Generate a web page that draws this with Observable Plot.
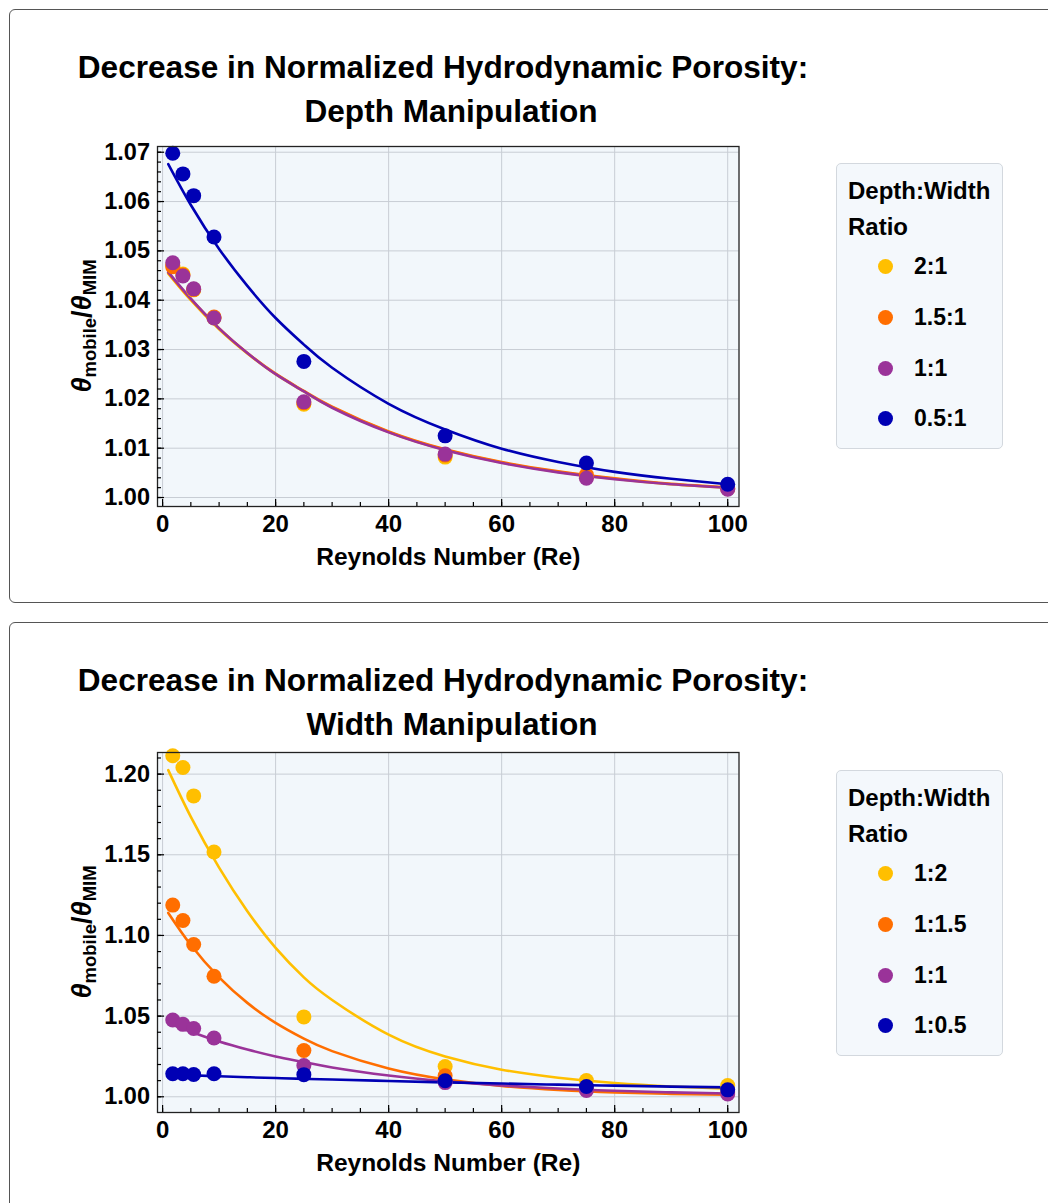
<!DOCTYPE html>
<html>
<head>
<meta charset="utf-8">
<script src="https://cdn.jsdelivr.net/npm/d3@7"></script>
<script src="https://cdn.jsdelivr.net/npm/@observablehq/plot@0.6"></script>
<style>
  body { margin: 0; background: #fff; font-family: "Liberation Sans", Arial, sans-serif; }
  #page { position: relative; width: 1048px; height: 1203px; overflow: hidden; }
  .panel { position: absolute; left: 9px; width: 1100px; box-sizing: border-box;
           border: 1.5px solid #555; border-radius: 6px; }
  .title { position: absolute; width: 900px; text-align: center; font-weight: bold;
           font-size: 31.6px; line-height: 31px; white-space: nowrap; color: #000; }
  .chart { position: absolute; left: 0; }
  .legend { position: absolute; left: 836px; width: 167px; height: 286px; box-sizing: border-box;
            background: #F4F8FC; border: 1px solid #D3D8DE; border-radius: 5px; }
  .legend .head { position: absolute; left: 11px; font-weight: bold; font-size: 24px; line-height: 24px; white-space: nowrap; }
  .legend .sw { position: absolute; width: 15px; height: 15px; border-radius: 50%; left: 41px; }
  .legend .lab { position: absolute; left: 77px; font-weight: bold; font-size: 23px; line-height: 23px; white-space: nowrap; }
</style>
</head>
<body>
<div id="page"></div>
<script>
// Reynolds numbers of the measured runs
const reynolds = [1.8, 3.6, 5.5, 9.1, 25, 50, 75, 100];
// Reynolds numbers at which the fitted curves are sampled
const fitReynolds = [1, 5, 10, 15, 20, 25, 30, 40, 50, 60, 70, 80, 90, 100];
const seriesColors = ["#FFBF00", "#FF6E00", "#9A3399", "#0000B4"];

// Axis ticks
const xTicks = [0, 20, 40, 60, 80, 100];
const depthYTicks = [1.00, 1.01, 1.02, 1.03, 1.04, 1.05, 1.06, 1.07];
const widthYTicks = [1.00, 1.05, 1.10, 1.15, 1.20];

// The 1:1 channel is shared by both experiments
const ratio1to1 = [1.0476, 1.0449, 1.0423, 1.0364, 1.0194, 1.0088, 1.0039, 1.0017];
const ratio1to1Fit = [1.0457, 1.0403, 1.0343, 1.0293, 1.0250, 1.0215, 1.0182, 1.0132, 1.0096, 1.0070, 1.0051, 1.0037, 1.0027, 1.0020];

// Depth manipulation (depth:width)
const depthRatios = ["2:1", "1.5:1", "1:1", "0.5:1"];
const depth2to1 = [1.0470, 1.0453, 1.0421, 1.0364, 1.0189, 1.0082, 1.0041, 1.0018];
const depth15to1 = [1.0468, 1.0451, 1.0422, 1.0366, 1.0192, 1.0086, 1.0046, 1.0019];
const depth05to1 = [1.0698, 1.0656, 1.0612, 1.0528, 1.0276, 1.0125, 1.0070, 1.0027];
const depth2to1Fit = [1.0454, 1.0400, 1.0341, 1.0292, 1.0250, 1.0215, 1.0183, 1.0133, 1.0097, 1.0071, 1.0052, 1.0038, 1.0027, 1.0020];
const depth15to1Fit = [1.0456, 1.0402, 1.0343, 1.0293, 1.0251, 1.0216, 1.0184, 1.0134, 1.0098, 1.0072, 1.0053, 1.0039, 1.0028, 1.0021];
const depth05to1Fit = [1.0676, 1.0593, 1.0504, 1.0429, 1.0364, 1.0310, 1.0263, 1.0190, 1.0138, 1.0099, 1.0072, 1.0052, 1.0038, 1.0027];

// Width manipulation (depth:width)
const widthRatios = ["1:2", "1:1.5", "1:1", "1:0.5"];
const width1to2 = [1.2114, 1.2041, 1.1865, 1.1517, 1.0495, 1.0188, 1.0101, 1.0070];
const width1to15 = [1.1188, 1.1093, 1.0944, 1.0747, 1.0287, 1.0130, 1.0045, 1.0030];
const width1to05 = [1.0143, 1.0143, 1.0138, 1.0143, 1.0137, 1.0099, 1.0064, 1.0043];
const width1to2Fit = [1.2025, 1.1735, 1.1420, 1.1150, 1.0923, 1.0740, 1.0600, 1.0385, 1.0250, 1.0168, 1.0118, 1.0085, 1.0064, 1.0050];
const width1to15Fit = [1.1140, 1.0941, 1.0740, 1.0582, 1.0458, 1.0360, 1.0283, 1.0175, 1.0108, 1.0067, 1.0042, 1.0027, 1.0018, 1.0013];
const width1to05Fit = [1.0137, 1.0133, 1.0127, 1.0121, 1.0116, 1.0111, 1.0107, 1.0098, 1.0089, 1.0082, 1.0075, 1.0069, 1.0063, 1.0058];

const FONT = "'Liberation Sans', Arial, sans-serif";

function tidy(ratios, series, xs) {
  return ratios.flatMap((ratio, i) => xs.map((re, j) => ({ratio, re, value: series[i][j]})));
}

function makeChart({ratios, points, fits, yDomain, yTicks, yMinorStep}) {
  const pts = tidy(ratios, points, reynolds);
  const curves = tidy(ratios, fits, fitReynolds);
  const xMinor = d3.range(0, 101, 5);
  const yMinor = d3.range(Math.ceil(yDomain[0] / yMinorStep), Math.floor(yDomain[1] / yMinorStep) + 1)
    .map(k => +(k * yMinorStep).toFixed(4));
  const chart = Plot.plot({
    width: 760, height: 450,
    marginLeft: 157, marginRight: 21.5, marginTop: 20, marginBottom: 70,
    style: {fontFamily: FONT, fontWeight: "bold", background: "transparent", overflow: "visible", color: "#000"},
    x: {domain: [-0.9, 102], label: null},
    y: {domain: yDomain, label: null},
    color: {domain: ratios, range: seriesColors},
    marks: [
      Plot.frame({fill: "#F2F7FB", stroke: null}),
      Plot.gridX(xTicks, {stroke: "#C8CDD4", strokeOpacity: 1, strokeWidth: 1}),
      Plot.gridY(yTicks, {stroke: "#C8CDD4", strokeOpacity: 1, strokeWidth: 1}),
      Plot.line(curves, {x: "re", y: "value", z: "ratio", stroke: "ratio", strokeWidth: 2.6, curve: "natural"}),
      Plot.dot(pts, {x: "re", y: "value", fill: "ratio", r: 7.5}),
      Plot.frame({stroke: "#222", strokeWidth: 1.3}),
      Plot.axisX(xMinor, {tickSize: -4, tickFormat: () => "", label: null, strokeWidth: 1.2}),
      Plot.axisX(xTicks, {tickSize: -7, tickPadding: 15, fontSize: 24, label: null, strokeWidth: 1.2, tickFormat: d => d}),
      Plot.axisY(yMinor, {tickSize: -4, tickFormat: () => "", label: null, strokeWidth: 1.2}),
      Plot.axisY(yTicks, {tickSize: -7, tickPadding: 14.5, fontSize: 23.5, label: null, strokeWidth: 1.2, tickFormat: d3.format(".2f")}),
      Plot.text(["Reynolds Number (Re)"], {frameAnchor: "bottom", dy: 58, fontSize: 24.5, fontWeight: "bold"})
    ]
  });

  // Y axis title with subscripts: θ_mobile / θ_MIM
  const svg = d3.select(chart.tagName === "svg" ? chart : chart.querySelector("svg"));
  const t = svg.append("text")
    .attr("transform", `translate(91, ${20 + 180}) rotate(-90)`)
    .attr("text-anchor", "middle")
    .attr("font-family", FONT)
    .attr("font-weight", "bold")
    .attr("fill", "#000");
  t.append("tspan").attr("font-size", 27).attr("font-style", "italic").text("θ");
  t.append("tspan").attr("font-size", 18.5).attr("dy", 4.5).text("mobile");
  t.append("tspan").attr("font-size", 27).attr("dy", -4.5).text("/");
  t.append("tspan").attr("font-size", 27).attr("font-style", "italic").text("θ");
  t.append("tspan").attr("font-size", 18.5).attr("dy", 4.5).text("MIM");
  return chart;
}

function addPanel(page, cfg) {
  const box = document.createElement("div");
  box.className = "panel";
  box.style.top = cfg.boxTop + "px";
  box.style.height = cfg.boxHeight + "px";
  page.appendChild(box);

  cfg.titleLines.forEach(line => {
    const d = document.createElement("div");
    d.className = "title";
    d.textContent = line.text;
    d.style.left = (line.cx - 450) + "px";
    d.style.top = (line.cy - 15.4) + "px";
    page.appendChild(d);
  });

  const chart = makeChart(cfg);
  const holder = document.createElement("div");
  holder.className = "chart";
  holder.style.top = cfg.chartTop + "px";
  holder.appendChild(chart);
  page.appendChild(holder);

  const color = chart.scale("color");
  const lg = document.createElement("div");
  lg.className = "legend";
  lg.style.top = cfg.legendTop + "px";
  ["Depth:Width", "Ratio"].forEach((s, i) => {
    const h = document.createElement("div");
    h.className = "head";
    h.textContent = s;
    h.style.top = (15 + i * 36) + "px";
    lg.appendChild(h);
  });
  cfg.ratios.forEach((r, i) => {
    const cy = 102.5 + i * 50.8;
    const sw = document.createElement("div");
    sw.className = "sw";
    sw.style.top = (cy - 7.5) + "px";
    sw.style.background = color.apply(r);
    lg.appendChild(sw);
    const lab = document.createElement("div");
    lab.className = "lab";
    lab.textContent = r;
    lab.style.top = (cy - 11.5) + "px";
    lg.appendChild(lab);
  });
  page.appendChild(lg);
}

const page = document.getElementById("page");

addPanel(page, {
  boxTop: 9, boxHeight: 594,
  titleLines: [
    {text: "Decrease in Normalized Hydrodynamic Porosity:", cx: 443, cy: 67},
    {text: "Depth Manipulation", cx: 451, cy: 111}
  ],
  chartTop: 126,
  legendTop: 163,
  ratios: depthRatios,
  points: [depth2to1, depth15to1, ratio1to1, depth05to1],
  fits: [depth2to1Fit, depth15to1Fit, ratio1to1Fit, depth05to1Fit],
  yDomain: [0.99818, 1.07116],
  yTicks: depthYTicks,
  yMinorStep: 0.002
});

addPanel(page, {
  boxTop: 622, boxHeight: 700,
  titleLines: [
    {text: "Decrease in Normalized Hydrodynamic Porosity:", cx: 443, cy: 680},
    {text: "Width Manipulation", cx: 452, cy: 724}
  ],
  chartTop: 732,
  legendTop: 770,
  ratios: widthRatios,
  points: [width1to2, width1to15, ratio1to1, width1to05],
  fits: [width1to2Fit, width1to15Fit, ratio1to1Fit, width1to05Fit],
  yDomain: [0.99025, 1.2134],
  yTicks: widthYTicks,
  yMinorStep: 0.01
});
</script>
</body>
</html>
